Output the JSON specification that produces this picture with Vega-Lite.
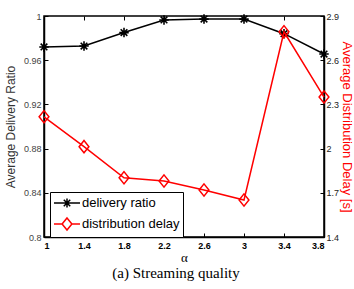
{
  "$schema": "https://vega.github.io/schema/vega-lite/v6.json",
  "width": 280,
  "height": 221,
  "autosize": "none",
  "padding": {"left": 44, "top": 16, "right": 30, "bottom": 52},
  "title": {"text": "(a) Streaming quality", "orient": "bottom", "font": "Liberation Serif", "fontSize": 15, "fontWeight": "normal", "color": "black", "offset": 2, "dx": -8},
  "data": {"values": [
    {"alpha": 1.0, "ratio": 0.972, "delay": 2.216},
    {"alpha": 1.4, "ratio": 0.9728, "delay": 2.013},
    {"alpha": 1.8, "ratio": 0.985, "delay": 1.802},
    {"alpha": 2.2, "ratio": 0.9964, "delay": 1.78},
    {"alpha": 2.6, "ratio": 0.9972, "delay": 1.719},
    {"alpha": 3.0, "ratio": 0.9972, "delay": 1.651},
    {"alpha": 3.4, "ratio": 0.984, "delay": 2.793},
    {"alpha": 3.8, "ratio": 0.9656, "delay": 2.35}
  ]},
  "layer": [
    {
      "encoding": {
        "x": {"field": "alpha", "type": "quantitative", "scale": {"domain": [1, 3.8], "nice": false, "zero": false},
          "axis": {"title": "α", "values": [1, 1.4, 1.8, 2.2, 2.6, 3, 3.4, 3.8], "format": "~g", "labelFontWeight": "bold", "labelFontSize": 9, "labelPadding": 8, "titleFont": "Liberation Serif", "titleFontSize": 13, "titleFontWeight": "normal", "titlePadding": 1, "grid": false}},
        "y": {"field": "ratio", "type": "quantitative", "scale": {"domain": [0.8, 1], "nice": false, "zero": false},
          "axis": {"title": "Average Delivery Ratio", "values": [0.8, 0.84, 0.88, 0.92, 0.96, 1], "format": "~g", "labelFontSize": 9, "labelColor": "#444", "labelPadding": 7, "titleFontSize": 12, "titleColor": "#333", "titleFontWeight": "normal", "titlePadding": 6, "grid": false}}
      },
      "layer": [
        {"mark": {"type": "line", "color": "black", "strokeWidth": 1.5}},
        {"mark": {"type": "point", "shape": "M-1,0L1,0M0,-1L0,1M-0.7,-0.7L0.7,0.7M-0.7,0.7L0.7,-0.7", "filled": false, "stroke": "black", "strokeWidth": 1.6, "size": 90, "opacity": 1}}
      ]
    },
    {
      "encoding": {
        "x": {"field": "alpha", "type": "quantitative", "scale": {"domain": [1, 3.8], "nice": false, "zero": false}, "axis": null},
        "y": {"field": "delay", "type": "quantitative", "scale": {"domain": [1.4, 2.9], "nice": false, "zero": false},
          "axis": {"orient": "right", "title": "Average Distribution Delay [s]", "values": [1.4, 1.7, 2, 2.3, 2.6, 2.9], "format": "~g", "labelFontSize": 9, "labelColor": "#222", "labelPadding": 6, "titleFontSize": 13, "titleColor": "red", "titleFontWeight": "normal", "titlePadding": 1, "grid": false}}
      },
      "layer": [
        {"mark": {"type": "line", "color": "red", "strokeWidth": 1.5}},
        {"mark": {"type": "point", "shape": "M0,-1L0.8,0L0,1L-0.8,0Z", "filled": false, "stroke": "red", "strokeWidth": 1.5, "size": 150, "opacity": 1}}
      ]
    },
    {
      "data": {"values": [{"series": "delivery ratio", "alpha": 1, "v": 0}, {"series": "distribution delay", "alpha": 1, "v": 0}]},
      "transform": [{"filter": "datum.v > 1"}],
      "mark": {"type": "point", "filled": false, "strokeWidth": 1.5, "size": 196, "opacity": 1},
      "encoding": {
        "x": {"field": "alpha", "type": "quantitative", "scale": {"domain": [1, 3.8], "nice": false, "zero": false},
          "axis": {"orient": "top", "labels": false, "domain": false, "title": null, "values": [1, 1.4, 1.8, 2.2, 2.6, 3, 3.4, 3.8], "grid": false}},
        "y": {"field": "v", "type": "quantitative", "axis": null},
        "color": {"field": "series", "type": "nominal",
          "scale": {"domain": ["delivery ratio", "distribution delay"], "range": ["black", "red"]},
          "legend": {"orient": "none", "legendX": 6, "legendY": 176, "title": null, "strokeColor": "black", "fillColor": "white", "padding": 3, "symbolSize": 196, "symbolOffset": 6, "symbolStrokeWidth": 1.5, "labelFontSize": 13, "labelFont": "Liberation Sans", "labelColor": "black", "rowPadding": 3, "labelOffset": 7}},
        "shape": {"field": "series", "type": "nominal",
          "scale": {"domain": ["delivery ratio", "distribution delay"], "range": ["M-1.86,0L1.86,0M0,-0.65L0,0.65M-0.46,-0.46L0.46,0.46M-0.46,0.46L0.46,-0.46", "M-1.86,0L-0.7,0M0.7,0L1.86,0M0,-0.86L0.7,0L0,0.86L-0.7,0Z"]},
          "legend": {"orient": "none", "legendX": 6, "legendY": 176, "title": null, "strokeColor": "black", "fillColor": "white", "padding": 3, "symbolSize": 196, "symbolOffset": 6, "symbolStrokeWidth": 1.5, "labelFontSize": 13, "labelFont": "Liberation Sans", "labelColor": "black", "rowPadding": 3, "labelOffset": 7}}
      }
    }
  ],
  "resolve": {"scale": {"y": "independent", "x": "independent"}},
  "config": {
    "font": "Liberation Sans",
    "view": {"stroke": "black", "strokeWidth": 1.5},
    "axis": {"domainColor": "black", "domainWidth": 1.5, "tickColor": "black", "tickSize": -4, "tickWidth": 1, "labelFont": "Liberation Sans", "titleFont": "Liberation Sans"},
    "legend": {"symbolFillColor": "transparent"}
  }
}
